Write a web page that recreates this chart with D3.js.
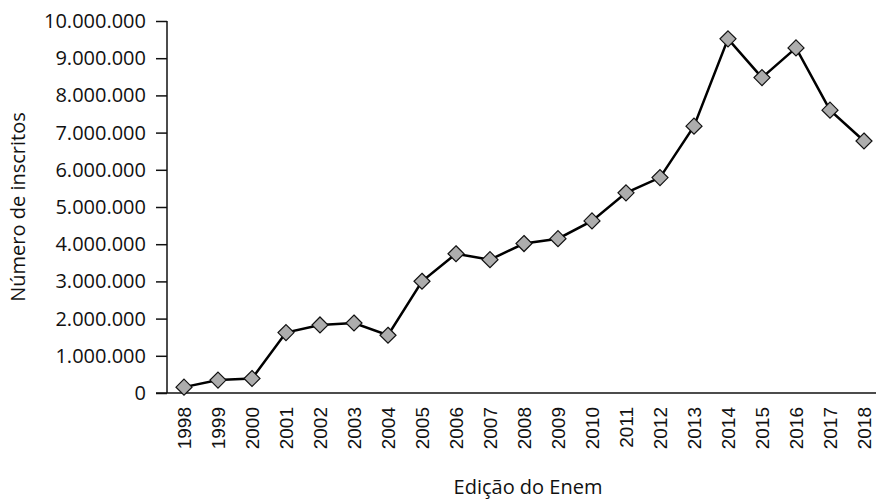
<!DOCTYPE html>
<html lang="pt">
<head>
<meta charset="UTF-8">
<title>Número de inscritos no Enem</title>
<script src="https://d3js.org/d3.v7.min.js"></script>
<style>
  body { margin: 0; background: #fff; }
  .yax text { font-family: "Open Sans", sans-serif; font-size: 20px; fill: #111; }
  .xax text { font-family: "Liberation Sans", Arial, sans-serif; font-size: 19px; fill: #111; }
  .title { font-family: "Open Sans", sans-serif; font-size: 20px; fill: #111; }
</style>
</head>
<body>
<svg width="876" height="499"></svg>
<script>
  // anos do Enem e inscritos
  const anos = ["1998","1999","2000","2001","2002","2003","2004","2005","2006","2007",
                "2008","2009","2010","2011","2012","2013","2014","2015","2016","2017","2018"];
  const inscritos = [157221, 346819, 390180, 1624131, 1829170, 1882393, 1552316, 3004491,
                     3743370, 3584569, 4018070, 4148721, 4626094, 5380857, 5791065, 7173574,
                     9519827, 8478096, 9276328, 7603290, 6774891];
  const yTicks = [0, 1e6, 2e6, 3e6, 4e6, 5e6, 6e6, 7e6, 8e6, 9e6, 1e7];

  const svg = d3.select("svg");
  const mL = 167, mR = 881, mT = 21, mB = 393;

  const x = d3.scaleBand().domain(anos).range([mL, mR]);
  const y = d3.scaleLinear().domain([0, 1e7]).range([mB, mT]);
  const fmt = d3.formatLocale({decimal: ",", thousands: ".", grouping: [3], currency: ["R$", ""]}).format(",d");

  // eixo y
  const yAxis = svg.append("g").attr("class", "yax")
    .attr("transform", "translate(" + mL + ",0)")
    .call(d3.axisLeft(y).tickValues(yTicks).tickFormat(fmt).tickSize(11).tickPadding(10));
  yAxis.selectAll("line, path").attr("stroke", "#111").attr("stroke-width", 1.5);
  yAxis.select(".domain").attr("d", "M0," + mT + "V" + mB);

  // eixo x
  const xAxis = svg.append("g").attr("class", "xax")
    .attr("transform", "translate(0," + mB + ")")
    .call(d3.axisBottom(x).tickSize(0).tickPadding(8));
  xAxis.select(".domain").attr("d", "M" + (mL - 11) + ",0H876").attr("stroke", "#111").attr("stroke-width", 1.5);
  xAxis.selectAll("text")
    .attr("transform", "rotate(-90)")
    .attr("text-anchor", "end")
    .attr("dx", "-14")
    .attr("dy", "0.35em")
    .attr("x", 0).attr("y", 0);

  const data = anos.map((a, i) => ({ano: a, v: inscritos[i]}));
  const cx = d => x(d.ano) + x.bandwidth() / 2;

  svg.append("path").datum(data)
    .attr("d", d3.line().x(cx).y(d => y(d.v)))
    .attr("fill", "none").attr("stroke", "#000").attr("stroke-width", 2.5);

  svg.selectAll(".m").data(data).enter().append("path")
    .attr("class", "m")
    .attr("transform", d => "translate(" + cx(d) + "," + y(d.v) + ")")
    .attr("d", "M0,-8L8,0L0,8L-8,0Z")
    .attr("fill", "#adadad").attr("stroke", "#111").attr("stroke-width", 1.2);

  // títulos
  svg.append("text").attr("class", "title")
    .attr("transform", "translate(25,207) rotate(-90)")
    .attr("text-anchor", "middle").text("Número de inscritos");
  svg.append("text").attr("class", "title")
    .attr("x", 528).attr("y", 494)
    .attr("text-anchor", "middle").text("Edição do Enem");
</script>
</body>
</html>
